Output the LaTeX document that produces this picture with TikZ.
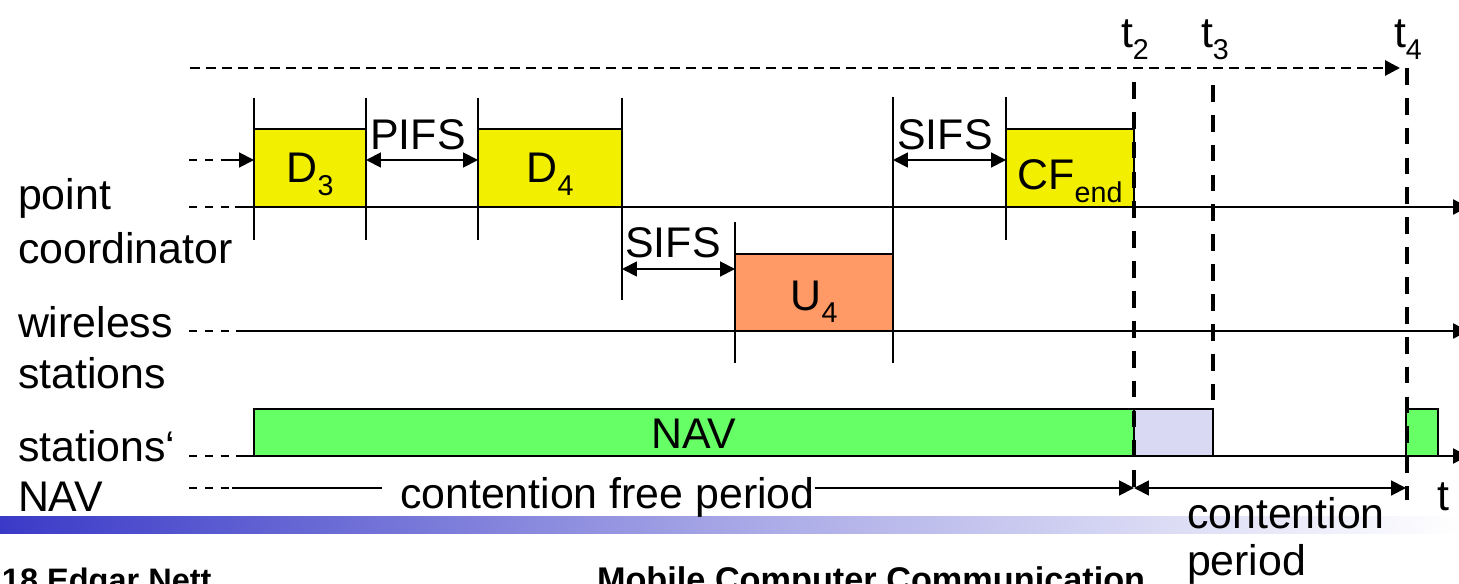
\documentclass[tikz,border=0pt]{standalone}
\usepackage{fontspec}
\setmainfont{Liberation Sans}
\usetikzlibrary{arrows.meta}
\definecolor{frameyellow}{RGB}{243,239,0}
\definecolor{uplink}{RGB}{255,153,102}
\definecolor{navgreen}{RGB}{102,255,102}
\definecolor{freelav}{RGB}{217,217,243}
\definecolor{barblue}{RGB}{58,58,200}
% lowered, smaller index as used in frame names
\newcommand\lowidx[1]{\raisebox{-0.28em}{\fontsize{16.3}{16}\selectfont #1}}
\begin{document}
\begin{tikzpicture}[x=0.02cm, y=-0.02cm, font=\fontsize{24.4}{28}\selectfont,
  lbl/.style={inner sep=0pt, outer sep=0pt, anchor=base},
  lblw/.style={inner sep=0pt, outer sep=0pt, anchor=base west},
  framebox/.style={draw=black, line width=1.1pt, inner sep=0pt, outer sep=0pt},
  tickln/.style={line width=1.1pt},
  tip/.tip={Triangle[length=8.5pt, width=8.5pt]},
  axisln/.style={line width=1.4pt, -tip},
  lead/.style={line width=1.1pt, dash pattern=on 4.5pt off 4.5pt},
  tmark/.style={line width=2.3pt, dash pattern=on 9.5pt off 7.5pt},
  gapar/.style={line width=1.1pt, tip-tip},
  onear/.style={line width=1.1pt, -tip},
  footer/.style={lblw, font=\fontsize{19.5}{20}\selectfont\bfseries}]

\useasboundingbox (0,0) rectangle (1459,584);

% footer band and footer text
\shade[left color=barblue, right color=white, middle color=barblue!45!white]
  (0,516) rectangle (1459,533);
\node[footer, font=\fontsize{18.5}{20}\selectfont\bfseries] (foot1) at (2,591) {18 Edgar Nett};
\node[footer] (foot2) at (597,591) {Mobile Computer Communication};

% row labels
\node[lblw] (l1a) at (18,210) {point};
\node[lblw] (l1b) at (18,263) {coordinator};
\node[lblw] (l2a) at (18,337) {wireless};
\node[lblw] (l2b) at (18,388) {stations};
\node[lblw] (l3a) at (18,461) {stations‘};
\node[lblw] (l3b) at (18,511) {NAV};

% frames
\node[framebox, fill=frameyellow, minimum width=2.24cm, minimum height=1.56cm] (d3) at (310,168) {};
\node[framebox, fill=frameyellow, minimum width=2.88cm, minimum height=1.56cm] (d4) at (550,168) {};
\node[framebox, fill=frameyellow, minimum width=2.56cm, minimum height=1.56cm] (cf) at (1070,168) {};
\node[framebox, fill=uplink, minimum width=3.16cm, minimum height=1.54cm] (u4) at (814,292.5) {};
\node[framebox, fill=navgreen, minimum width=17.6cm, minimum height=0.94cm] (nav) at (694,432.5) {};
\node[framebox, fill=freelav, minimum width=1.58cm, minimum height=0.94cm] (lav) at (1173.5,432.5) {};
\node[framebox, fill=navgreen, minimum width=0.64cm, minimum height=0.94cm] (nav2) at (1422,432.5) {};

\node[lbl] (d3t) at (310,183) {D\lowidx{3}};
\node[lbl] (d4t) at (550,183) {D\lowidx{4}};
\node[lbl] (cft) at (1070,190) {CF\lowidx{end}};
\node[lbl] (u4t) at (814,310) {U\lowidx{4}};
\node[lbl] (navt) at (694,448) {NAV};

% time axes
\coordinate (a1s) at (189,207); \coordinate (a1m) at (235,207); \coordinate (a1e) at (1468,207);
\coordinate (a2s) at (189,331); \coordinate (a2m) at (237,331); \coordinate (a2e) at (1468,331);
\coordinate (a3s) at (189,456); \coordinate (a3m) at (237,456); \coordinate (a3e) at (1468,456);
\draw[lead] (a1s) -- (a1m);  \draw[axisln] (a1m) -- (a1e);
\draw[lead] (a2s) -- (a2m);  \draw[axisln] (a2m) -- (a2e);
\draw[lead] (a3s) -- (a3m);  \draw[axisln] (a3m) -- (a3e);

% frame boundary ticks
\draw[tickln] (254,98) -- (254,240);
\draw[tickln] (366,98) -- (366,240);
\draw[tickln] (478,98) -- (478,240);
\draw[tickln] (622,98) -- (622,300);
\draw[tickln] (735,222) -- (735,363);
\draw[tickln] (893,97) -- (893,363);
\draw[tickln] (1006,97) -- (1006,240);

% incoming arrow before D3
\coordinate (inS) at (189,160); \coordinate (inM) at (222,160);
\draw[lead] (inS) -- (inM);
\draw[onear] (inM) -- (d3.west |- inM);

% inter-frame spaces
\draw[gapar] (366,160) -- (478,160);
\node[lbl] (pifs) at (418,150) {PIFS};
\draw[gapar] (622,269) -- (735,269);
\node[lbl] (sifs1) at (673,257) {SIFS};
\draw[gapar] (893,160) -- (1006,160);
\node[lbl] (sifs2) at (945,150) {SIFS};

% superframe arrow and time marks
\coordinate (sfS) at (190,68); \coordinate (sfE) at (1400,68);
\draw[line width=1.7pt, dash pattern=on 5.7pt off 3.4pt, -tip] (sfS) -- (sfE);
\draw[tmark] (1134,82) -- (1134,500);
\draw[tmark] (1213,85) -- (1213,408);
\draw[tmark] (1407,68) -- (1407,500);
\node[lblw] (t2) at (1121,48) {t\lowidx{2}};
\node[lblw] (t3) at (1201,48) {t\lowidx{3}};
\node[lblw] (t4) at (1394,48) {t\lowidx{4}};

% periods
\coordinate (pS) at (189,488); \coordinate (pM) at (232,488); \coordinate (pL) at (382,488);
\coordinate (pT2) at (1134,488); \coordinate (pT4) at (1406,488);
\node[lblw] (cfp) at (400,508) {contention free period};
\draw[lead] (pS) -- (pM);
\draw[line width=1.1pt] (pM) -- (pL);
\draw[onear] (cfp.east |- pT2) -- (pT2);
\draw[gapar] (pT2) -- (pT4);
\node[lblw] (cp1) at (1187,528) {contention};
\node[lblw] (cp2) at (1187,575) {period};
\node[lblw] (tax) at (1437,510) {t};
\end{tikzpicture}
\end{document}
